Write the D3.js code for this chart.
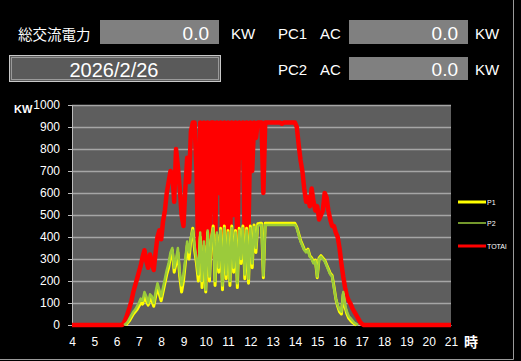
<!DOCTYPE html>
<html>
<head>
<meta charset="utf-8">
<script src="https://cdn.jsdelivr.net/npm/d3@7"></script>
<style>
  html, body { margin: 0; padding: 0; background: #000; }
  svg { display: block; }
</style>
</head>
<body>
<script>
// 5 minute samples, 6:00 .. 17:25, one hour per row
const total = [
  0,0,0,0,10,30,55,80,110,150,180,210,
  240,270,310,340,290,260,320,280,250,330,400,430,
  390,470,520,600,650,700,690,560,800,720,620,500,
  450,620,760,650,880,920,920,700,300,920,260,920,
  200,920,400,920,920,300,920,600,920,250,920,330,
  920,280,920,500,920,300,920,760,920,350,920,420,
  920,700,920,850,920,920,920,600,920,920,920,920,
  920,920,920,920,920,915,920,920,920,920,920,920,
  920,900,820,750,700,620,560,580,540,620,560,520,
  540,480,500,520,600,580,520,480,450,450,420,400,
  350,280,220,170,130,110,95,75,60,45,30,15,
  5,0,0,0,0,0
];
const p1 = [
  0,0,0,0,0,0,10,20,35,50,60,70,
  85,100,95,130,110,90,120,110,85,130,170,140,
  110,150,190,230,260,310,340,240,280,330,220,150,
  200,280,360,300,390,440,340,280,200,400,170,360,
  150,420,200,390,450,180,410,240,440,160,450,210,
  430,180,450,240,430,170,440,280,450,210,440,190,
  450,260,455,330,460,462,462,215,462,462,462,462,
  462,462,462,462,462,462,462,462,462,462,462,462,
  462,445,415,385,365,345,335,345,315,305,285,295,
  215,305,315,305,295,275,255,235,225,175,120,85,
  60,50,140,80,50,30,20,12,5,0,0,0,
  0,0,0,0,0,0
];
const p2 = [
  0,0,0,0,0,5,15,30,45,60,70,85,
  100,120,110,150,130,100,140,130,100,150,190,160,
  130,170,210,250,280,330,350,260,300,350,240,180,
  230,300,380,330,400,430,360,300,230,420,200,380,
  160,430,220,400,440,200,420,260,430,180,440,230,
  420,200,440,260,420,190,430,300,440,230,430,210,
  440,280,445,350,450,455,455,225,455,455,455,455,
  455,455,455,455,455,455,455,455,455,455,455,455,
  455,440,410,380,360,340,330,340,310,300,280,290,
  220,300,310,300,290,270,250,230,220,170,120,90,
  70,60,150,90,60,40,30,20,10,5,0,0,
  0,0,0,0,0,0
];
const startHour = 6, stepMin = 5;
const hourTicks = [4,5,6,7,8,9,10,11,12,13,14,15,16,17,18,19,20,21];
const kwTicks = [0,100,200,300,400,500,600,700,800,900,1000];
const seriesNames = ["P1", "P2", "TOTAl"];

const W = 521, H = 361;
const svg = d3.select("body").append("svg").attr("width", W).attr("height", H);
svg.append("rect").attr("width", W).attr("height", H).attr("fill", "#000");

// outer frame (right + bottom)
svg.append("line").attr("x1", 513.5).attr("x2", 513.5).attr("y1", 0).attr("y2", 359.5)
  .attr("stroke", "#9a9a9a").attr("stroke-width", 1);
svg.append("line").attr("x1", 0).attr("x2", 513.5).attr("y1", 359.5).attr("y2", 359.5)
  .attr("stroke", "#9a9a9a").attr("stroke-width", 1);

// ---- top panel
const jp = "'Noto Sans CJK JP', sans-serif";
const lat = "'Liberation Sans', Arial, sans-serif";

function label(x, y, t, size, font, anchor) {
  svg.append("text").attr("x", x).attr("y", y).text(t)
    .attr("fill", "#fff").attr("font-size", size).attr("font-family", font)
    .attr("text-anchor", anchor || "start").attr("dominant-baseline", "central");
}
function valueBox(x, y, w, h, v) {
  svg.append("rect").attr("x", x).attr("y", y).attr("width", w).attr("height", h).attr("fill", "#808080");
  label(x + w - 10, y + h / 2 + 1, v, 19, lat, "end");
}

label(18, 33, "総交流電力", 14.5, jp);
valueBox(100, 20, 119, 24, "0.0");
label(231, 33, "KW", 15, lat);

svg.append("rect").attr("x", 9.5).attr("y", 55.5).attr("width", 211).attr("height", 26)
  .attr("fill", "#5a5a5a").attr("stroke", "#c8c8c8");
svg.append("rect").attr("x", 11.5).attr("y", 57.5).attr("width", 207).attr("height", 22)
  .attr("fill", "none").attr("stroke", "#9a9a9a");
label(114, 69.5, "2026/2/26", 20, lat, "middle");

label(278, 33, "PC1", 15, lat);
label(320, 33, "AC", 15, lat);
valueBox(349, 20, 119, 24, "0.0");
label(475, 33, "KW", 15, lat);

label(278, 69, "PC2", 15, lat);
label(320, 69, "AC", 15, lat);
valueBox(349, 57, 119, 23, "0.0");
label(475, 69, "KW", 15, lat);

// ---- chart
const x = d3.scaleLinear().domain([4, 21]).range([72, 451]);
const y = d3.scaleLinear().domain([0, 1000]).range([325, 105]);

svg.append("rect").attr("x", x(4)).attr("y", y(1000))
  .attr("width", x(21) - x(4)).attr("height", y(0) - y(1000)).attr("fill", "#5e5e5e");

svg.append("g").selectAll("line").data(kwTicks.slice(1)).join("line")
  .attr("x1", x(4)).attr("x2", x(21))
  .attr("y1", d => y(d) + 0.5).attr("y2", d => y(d) + 0.5)
  .attr("stroke", "#a6a6a6").attr("stroke-width", 1.3);

const yAxis = svg.append("g").attr("transform", `translate(${x(4)},0)`)
  .call(d3.axisLeft(y).tickValues(kwTicks).tickSize(4).tickPadding(8).tickFormat(d3.format("d")));
yAxis.select(".domain").attr("stroke", "#bdbdbd");
yAxis.selectAll(".tick line").attr("stroke", "#bdbdbd");
yAxis.selectAll("text").attr("fill", "#fff").attr("font-size", 12).attr("font-family", lat);

const xAxis = svg.append("g").attr("transform", `translate(0,${y(0)})`)
  .call(d3.axisBottom(x).tickValues(hourTicks).tickSize(0).tickPadding(12).tickFormat(d3.format("d")));
xAxis.select(".domain").attr("stroke", "#bdbdbd");
xAxis.selectAll("text").attr("fill", "#fff").attr("font-size", 12).attr("font-family", lat);

svg.append("text").attr("x", 14).attr("y", 109).text("KW")
  .attr("fill", "#fff").attr("font-size", 11).attr("font-weight", "bold")
  .attr("font-family", lat).attr("dominant-baseline", "central");
svg.append("text").attr("x", 464).attr("y", 341).text("時")
  .attr("fill", "#fff").attr("font-size", 14).attr("font-weight", "bold")
  .attr("font-family", jp).attr("dominant-baseline", "central");

// total runs the whole day; the unit series only while producing
function toPoints(arr, wholeDay) {
  let pts = arr.map((v, i) => [startHour + i * stepMin / 60, v]);
  if (wholeDay) return [[4, 0], ...pts, [21, 0]];
  const first = Math.max(0, arr.findIndex(v => v > 0) - 1);
  let last = arr.length - 1;
  while (last > 0 && arr[last] === 0) last--;
  return pts.slice(first, Math.min(arr.length, last + 2));
}
const line = d3.line().x(d => x(d[0])).y(d => y(d[1]));

const series = [
  { name: seriesNames[2], data: total, color: "#ff0000", width: 4.5, all: true },
  { name: seriesNames[0], data: p1, color: "#ffff00", width: 3, all: false },
  { name: seriesNames[1], data: p2, color: "#9bcb3b", width: 2.5, all: false }
];
series.forEach(s => {
  svg.append("path").datum(toPoints(s.data, s.all)).attr("d", line)
    .attr("fill", "none").attr("stroke", s.color).attr("stroke-width", s.width)
    .attr("stroke-linejoin", "round");
});

// legend
const legend = [
  { name: seriesNames[0], color: "#ffff00", width: 3, y: 202 },
  { name: seriesNames[1], color: "#9bcb3b", width: 1.5, y: 223 },
  { name: seriesNames[2], color: "#ff0000", width: 3, y: 246 }
];
legend.forEach(l => {
  svg.append("line").attr("x1", 458).attr("x2", 486).attr("y1", l.y).attr("y2", l.y)
    .attr("stroke", l.color).attr("stroke-width", l.width);
  svg.append("text").attr("x", 487).attr("y", l.y).text(l.name)
    .attr("fill", "#fff").attr("font-size", 7).attr("font-family", lat)
    .attr("dominant-baseline", "central");
});
</script>
</body>
</html>
